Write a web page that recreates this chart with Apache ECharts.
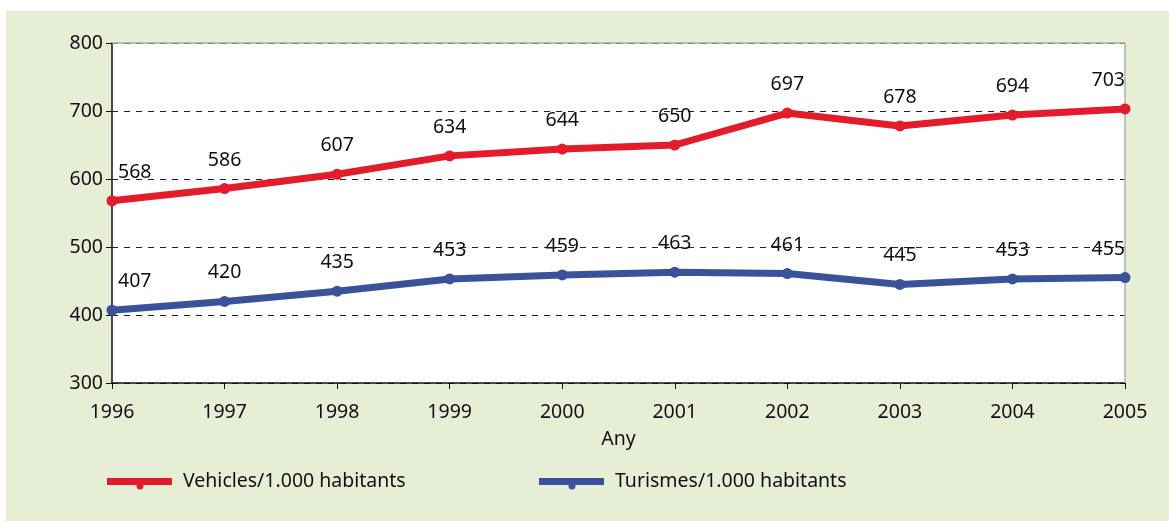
<!DOCTYPE html>
<html><head><meta charset="utf-8">
<script src="https://cdn.jsdelivr.net/npm/echarts@6/dist/echarts.min.js"></script>
<style>html,body{margin:0;padding:0;background:#fff}#c{width:1169px;height:521px}</style>
</head><body><div id="c"></div>
<script>
const years = ['1996','1997','1998','1999','2000','2001','2002','2003','2004','2005'];
const vehicles = [568,586,607,634,644,650,697,678,694,703];
const turismes = [407,420,435,453,459,463,461,445,453,455];
const yTicks = [300,400,500,600,700,800];
const names = ['Vehicles/1.000 habitants','Turismes/1.000 habitants'];

const FONT = '"Noto Sans", sans-serif';
const FS = 19.5;
const RED = '#E31B2B', BLUE = '#3A529B';
const chart = echarts.init(document.getElementById('c'));
function toData(vals){
  const n = vals.length;
  return vals.map((v,i)=>{
    const d = {value:v};
    if(i===0) d.label = {align:'left', offset:[6,0]};
    if(i===n-1) d.label = {align:'right', offset:[0,0]};
    return d;
  });
}
function mkLabel(){
  return {show:true, position:'top', distance:13, color:'#111', fontSize:FS, fontFamily:FONT};
}
const g = [{type:'rect', z:-10, shape:{x:6,y:11,width:1163,height:510}, style:{fill:'#E6EFD5'}},
  {type:'line', z:1, shape:{x1:1125,y1:43,x2:1125,y2:383}, style:{stroke:'#b0b0b0',lineWidth:1.5}},
  {type:'line', z:1, shape:{x1:112,y1:43,x2:1125,y2:43}, style:{stroke:'#a8a8a8',lineWidth:1.5}}];
[{x:107,color:RED,text:names[0]},{x:539,color:BLUE,text:names[1]}].forEach(it=>{
  g.push({type:'rect',shape:{x:it.x,y:478,width:65,height:7},style:{fill:it.color}});
  g.push({type:'circle',shape:{cx:it.x+33,cy:486,r:3.5},style:{fill:it.color}});
  g.push({type:'text',x:it.x+76,y:481,style:{text:it.text,fill:'#111',font:FS+'px '+FONT,textVerticalAlign:'middle'}});
});
chart.setOption({
  animation:false,
  graphic:g,
  grid:{left:112,right:44,top:43,bottom:138,show:true,backgroundColor:'#fff',borderWidth:0},
  xAxis:{type:'category',data:years,boundaryGap:false,name:'Any',nameLocation:'middle',nameGap:46,
    nameTextStyle:{color:'#111',fontSize:FS,fontFamily:FONT},
    axisLine:{lineStyle:{color:'#111',width:1.5}},
    axisTick:{show:true,inside:false,length:6,lineStyle:{color:'#111'}},
    axisLabel:{color:'#111',fontSize:FS,fontFamily:FONT,margin:19}},
  yAxis:{type:'value',min:yTicks[0],max:yTicks[yTicks.length-1],interval:100,
    axisLine:{show:true,lineStyle:{color:'#111',width:1.5}},
    axisTick:{show:true,length:6,lineStyle:{color:'#111'}},
    axisLabel:{color:'#111',fontSize:FS,fontFamily:FONT,margin:9},
    splitLine:{show:true,lineStyle:{color:'#222',type:[6,6],width:1}}},
  series:[
    {name:names[0],type:'line',data:toData(vehicles),symbol:'circle',symbolSize:11,z:3,
     lineStyle:{color:RED,width:7},itemStyle:{color:RED},label:mkLabel()},
    {name:names[1],type:'line',data:toData(turismes),symbol:'circle',symbolSize:11,z:3,
     lineStyle:{color:BLUE,width:7},itemStyle:{color:BLUE},label:mkLabel()}
  ]
});
</script></body></html>
